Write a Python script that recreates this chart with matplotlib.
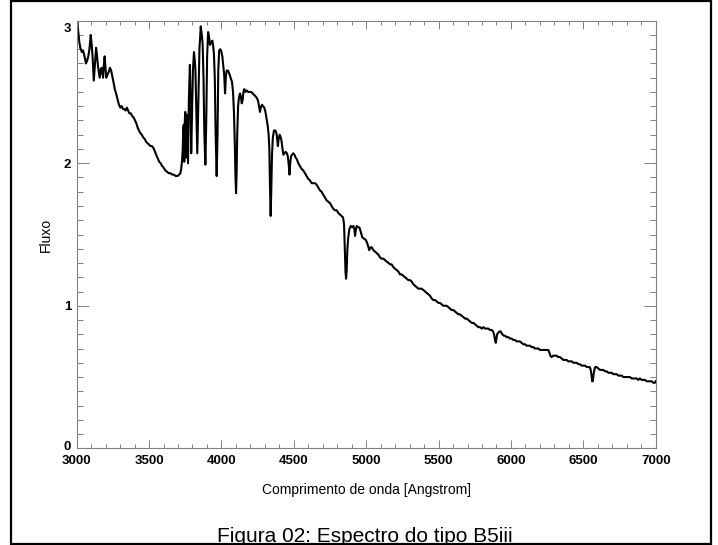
import matplotlib
matplotlib.use("Agg")
import matplotlib.pyplot as plt
from matplotlib.patches import Rectangle
from matplotlib.ticker import MultipleLocator
from matplotlib.transforms import ScaledTranslation

plt.rcParams['font.family'] = ['Liberation Sans', 'DejaVu Sans']

# Spectrum of a B5 III star: wavelength [Angstrom] and flux
wavelength = [
    3000, 3004, 3010, 3018, 3025, 3035, 3044, 3052, 3064, 3072, 3080, 3088, 3097, 3103,
    3110, 3118, 3126, 3134, 3140, 3147, 3153, 3159, 3166, 3173, 3178, 3182, 3187, 3193,
    3198, 3204, 3212, 3221, 3230, 3238, 3246, 3254, 3263, 3272, 3282, 3292, 3302, 3311,
    3320, 3329, 3338, 3347, 3355, 3364, 3374, 3384, 3394, 3403, 3412, 3421, 3430, 3440,
    3450, 3460, 3470, 3480, 3490, 3500, 3510, 3520, 3529, 3537, 3545, 3553, 3562, 3570,
    3580, 3590, 3600, 3612, 3624, 3636, 3648, 3660, 3672, 3684, 3696, 3708, 3716, 3722,
    3728, 3732, 3736, 3739, 3743, 3747, 3750, 3755, 3759, 3764, 3769, 3775, 3782, 3787,
    3791, 3796, 3803, 3810, 3816, 3820, 3826, 3833, 3840, 3848, 3857, 3864, 3870, 3876,
    3882, 3889, 3895, 3901, 3908, 3915, 3921, 3928, 3937, 3943, 3948, 3954, 3960, 3967,
    3973, 3978, 3984, 3991, 3998, 4006, 4013, 4019, 4025, 4030, 4036, 4045, 4054, 4063,
    4073, 4080, 4087, 4093, 4097, 4101, 4105, 4109, 4115, 4121, 4128, 4134, 4140, 4146,
    4152, 4158, 4166, 4175, 4185, 4195, 4205, 4215, 4225, 4235, 4243, 4252, 4260, 4266,
    4272, 4280, 4288, 4296, 4304, 4312, 4320, 4326, 4331, 4335, 4340, 4344, 4349, 4355,
    4363, 4372, 4380, 4386, 4390, 4395, 4402, 4410, 4416, 4422, 4428, 4436, 4444, 4452,
    4458, 4464, 4470, 4475, 4481, 4488, 4496, 4504, 4512, 4520, 4531, 4542, 4554, 4565,
    4577, 4588, 4600, 4611, 4623, 4634, 4646, 4657, 4669, 4680, 4692, 4703, 4715, 4726,
    4738, 4750, 4761, 4773, 4784, 4796, 4808, 4819, 4830, 4840, 4847, 4852, 4857, 4861,
    4865, 4870, 4876, 4884, 4893, 4902, 4911, 4918, 4923, 4928, 4934, 4943, 4953, 4962,
    4973, 4986, 4999, 5010, 5021, 5030, 5038, 5050, 5061, 5072, 5083, 5095, 5107, 5120,
    5131, 5141, 5155, 5166, 5176, 5188, 5200, 5211, 5222, 5234, 5245, 5257, 5268, 5280,
    5291, 5303, 5314, 5326, 5338, 5349, 5360, 5372, 5383, 5395, 5406, 5418, 5430, 5441,
    5453, 5464, 5476, 5487, 5499, 5510, 5522, 5533, 5545, 5556, 5568, 5579, 5590, 5602,
    5614, 5625, 5637, 5648, 5660, 5671, 5683, 5694, 5706, 5717, 5729, 5740, 5752, 5763,
    5775, 5786, 5798, 5810, 5821, 5832, 5844, 5855, 5867, 5876, 5883, 5890, 5895, 5899,
    5904, 5912, 5920, 5929, 5940, 5950, 5959, 5970, 5982, 5993, 6005, 6016, 6028, 6040,
    6051, 6062, 6074, 6085, 6097, 6108, 6120, 6131, 6143, 6155, 6166, 6178, 6190, 6201,
    6212, 6224, 6235, 6247, 6258, 6266, 6272, 6281, 6292, 6304, 6316, 6327, 6339, 6350,
    6362, 6373, 6385, 6396, 6408, 6420, 6431, 6443, 6454, 6466, 6477, 6489, 6500, 6512,
    6524, 6535, 6545, 6551, 6556, 6561, 6565, 6570, 6576, 6582, 6592, 6603, 6615, 6627,
    6638, 6650, 6661, 6673, 6684, 6696, 6707, 6719, 6730, 6742, 6753, 6765, 6776, 6788,
    6799, 6810, 6822, 6834, 6845, 6857, 6868, 6880, 6891, 6903, 6914, 6926, 6937, 6949,
    6960, 6972, 6983, 6995, 7000,
]
flux = [
    2.95, 2.99, 2.93, 2.85, 2.81, 2.78, 2.79, 2.76, 2.70, 2.72, 2.75, 2.80, 2.90, 2.84,
    2.74, 2.58, 2.70, 2.81, 2.76, 2.68, 2.64, 2.60, 2.66, 2.67, 2.63, 2.60, 2.68, 2.75,
    2.68, 2.60, 2.62, 2.64, 2.67, 2.65, 2.61, 2.57, 2.52, 2.49, 2.45, 2.41, 2.39, 2.40,
    2.38, 2.38, 2.37, 2.39, 2.37, 2.35, 2.35, 2.33, 2.32, 2.30, 2.28, 2.25, 2.23, 2.21,
    2.20, 2.18, 2.17, 2.15, 2.14, 2.13, 2.12, 2.12, 2.11, 2.09, 2.07, 2.05, 2.03, 2.01,
    2.00, 1.98, 1.97, 1.95, 1.94, 1.93, 1.93, 1.92, 1.92, 1.91, 1.91, 1.92, 1.93, 1.96,
    2.02, 2.09, 2.22, 2.27, 2.01, 2.30, 2.36, 2.04, 2.30, 2.34, 2.00, 2.45, 2.69, 2.40,
    2.07, 2.30, 2.65, 2.78, 2.72, 2.66, 2.40, 2.07, 2.40, 2.80, 2.96, 2.90, 2.84, 2.60,
    2.20, 1.99, 2.30, 2.75, 2.92, 2.88, 2.83, 2.85, 2.86, 2.82, 2.77, 2.60, 2.20, 1.91,
    2.20, 2.65, 2.79, 2.80, 2.79, 2.75, 2.68, 2.62, 2.49, 2.60, 2.65, 2.65, 2.63, 2.60,
    2.57, 2.50, 2.34, 2.10, 1.90, 1.79, 1.95, 2.20, 2.40, 2.46, 2.49, 2.47, 2.42, 2.44,
    2.50, 2.52, 2.50, 2.51, 2.50, 2.50, 2.50, 2.49, 2.48, 2.47, 2.46, 2.44, 2.40, 2.36,
    2.39, 2.41, 2.40, 2.39, 2.36, 2.31, 2.26, 2.20, 2.10, 1.85, 1.63, 1.80, 2.05, 2.18,
    2.23, 2.23, 2.21, 2.16, 2.12, 2.17, 2.20, 2.18, 2.15, 2.10, 2.06, 2.07, 2.08, 2.07,
    2.05, 2.00, 1.92, 2.00, 2.05, 2.06, 2.07, 2.06, 2.04, 2.03, 2.00, 1.98, 1.96, 1.95,
    1.93, 1.91, 1.89, 1.88, 1.86, 1.86, 1.86, 1.85, 1.83, 1.81, 1.80, 1.78, 1.76, 1.74,
    1.73, 1.72, 1.70, 1.68, 1.67, 1.67, 1.65, 1.64, 1.63, 1.62, 1.57, 1.40, 1.24, 1.19,
    1.25, 1.40, 1.48, 1.54, 1.56, 1.55, 1.56, 1.54, 1.49, 1.53, 1.56, 1.55, 1.55, 1.52,
    1.48, 1.47, 1.46, 1.43, 1.39, 1.41, 1.41, 1.39, 1.38, 1.37, 1.36, 1.34, 1.33, 1.33,
    1.32, 1.31, 1.30, 1.29, 1.29, 1.27, 1.26, 1.25, 1.24, 1.22, 1.22, 1.21, 1.20, 1.19,
    1.18, 1.18, 1.17, 1.15, 1.14, 1.13, 1.12, 1.12, 1.12, 1.11, 1.10, 1.09, 1.08, 1.07,
    1.05, 1.04, 1.04, 1.03, 1.02, 1.02, 1.01, 1.00, 1.00, 1.00, 0.99, 0.98, 0.97, 0.97,
    0.96, 0.95, 0.94, 0.94, 0.93, 0.92, 0.91, 0.91, 0.90, 0.89, 0.88, 0.88, 0.87, 0.86,
    0.85, 0.85, 0.84, 0.85, 0.84, 0.84, 0.84, 0.83, 0.83, 0.82, 0.80, 0.76, 0.74, 0.76,
    0.80, 0.81, 0.82, 0.82, 0.80, 0.79, 0.79, 0.78, 0.78, 0.77, 0.77, 0.76, 0.76, 0.75,
    0.75, 0.75, 0.74, 0.73, 0.73, 0.72, 0.72, 0.72, 0.71, 0.71, 0.70, 0.70, 0.70, 0.69,
    0.69, 0.69, 0.69, 0.69, 0.69, 0.67, 0.65, 0.64, 0.65, 0.65, 0.65, 0.64, 0.64, 0.63,
    0.62, 0.62, 0.62, 0.61, 0.61, 0.61, 0.60, 0.60, 0.60, 0.59, 0.59, 0.58, 0.58, 0.58,
    0.57, 0.57, 0.57, 0.55, 0.52, 0.47, 0.47, 0.51, 0.55, 0.57, 0.57, 0.56, 0.55, 0.55,
    0.55, 0.54, 0.54, 0.53, 0.53, 0.53, 0.52, 0.52, 0.52, 0.51, 0.51, 0.51, 0.50, 0.50,
    0.50, 0.50, 0.50, 0.49, 0.49, 0.49, 0.49, 0.48, 0.49, 0.48, 0.48, 0.48, 0.47, 0.47,
    0.47, 0.47, 0.46, 0.46, 0.47,
]

x_ticks = [3000, 3500, 4000, 4500, 5000, 5500, 6000, 6500, 7000]
y_ticks = [0, 1, 2, 3]

W, H = 718, 545
fig = plt.figure(figsize=(W / 100, H / 100), dpi=100)
fig.patch.set_facecolor('white')

ax_left, ax_right, ax_top, ax_bottom = 76.7, 655.7, 20.7, 448.3
ax = fig.add_axes([ax_left / W, 1 - ax_bottom / H,
                   (ax_right - ax_left) / W, (ax_bottom - ax_top) / H])

ax.plot(wavelength, flux, color='black', lw=1.5, solid_joinstyle='round')

ax.set_xlim(3000, 7000)
ax.set_ylim(0, 3)
ax.set_xticks(x_ticks)
ax.set_yticks(y_ticks)
ax.set_xticklabels([str(t) for t in x_ticks], fontweight='bold', fontsize=9.5)
ax.set_yticklabels([str(t) for t in y_ticks], fontweight='bold', fontsize=9.5)
ax.xaxis.set_minor_locator(MultipleLocator(100))
ax.yaxis.set_minor_locator(MultipleLocator(0.1))

axis_gray = '#808080'
for s in ax.spines.values():
    s.set_color(axis_gray)
    s.set_linewidth(0.8)
ax.tick_params(axis='both', which='both', direction='in', top=True, right=True,
               color=axis_gray, width=0.7, labelcolor='black')
ax.tick_params(axis='x', which='major', length=6.1, pad=4.5)
ax.tick_params(axis='x', which='minor', length=3.0)
ax.tick_params(axis='y', which='major', length=8.3, pad=4)
ax.tick_params(axis='y', which='minor', length=4.2)

# End labels of the y axis sit inside the axis range
ylabels = ax.get_yticklabels()
shifts_pt = {0: 2.2, 3: -4.7}
for lab, val in zip(ylabels, y_ticks):
    if val in shifts_pt:
        lab.set_transform(lab.get_transform() +
                          ScaledTranslation(0, shifts_pt[val] / 72, fig.dpi_scale_trans))

ax.set_xlabel('Comprimento de onda [Angstrom]', fontsize=10)
ax.xaxis.set_label_coords(0.5, -0.081)
ax.xaxis.label.set_va('top')
ax.set_ylabel('Fluxo', fontsize=10, va='center', ha='center')
ax.yaxis.set_label_coords(-0.054, 0.5)

# Caption under the plot, clipped by the frame
fig.text(365 / W, 1 - 541.5 / H, 'Figura 02: Espectro do tipo B5iii',
         fontsize=15, ha='center', va='baseline')
fig.patches.append(Rectangle((0, 0), 1, 2.5 / H, transform=fig.transFigure,
                             facecolor='white', edgecolor='none', zorder=5))

# Outer frame
x0, x1, y0, y1 = 11, 710.5, 1, 543.5
fig.patches.append(Rectangle((x0 / W, 1 - y1 / H), (x1 - x0) / W, (y1 - y0) / H,
                             transform=fig.transFigure, fill=False,
                             edgecolor='black', linewidth=1.6, zorder=6))

fig.savefig('out.png', dpi=100, facecolor='white')
